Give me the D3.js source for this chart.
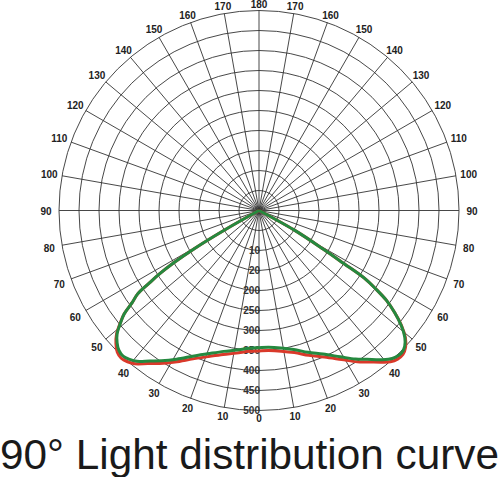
<!DOCTYPE html>
<html>
<head>
<meta charset="utf-8">
<script src="https://cdn.jsdelivr.net/npm/d3@7"></script>
<style>
  html, body { margin: 0; padding: 0; background: #fff; }
  svg { display: block; }
</style>
</head>
<body>
<div id="chart"></div>
<script>
// angle labels round the rim, 0 at the bottom, 180 at the top
const ANGLE_TICKS = d3.range(0, 181, 10);

// ring values (outer ring = 500) and the text printed on them
const RING_VALUES = [50, 100, 150, 200, 250, 300, 350, 400, 450, 500];
const RING_LABELS = ['', '10', '20', '200', '250', '300', '350', '400', '450', '500'];

// curve samples: angle in degrees from the downward axis (negative = left side)
const ANGLES = [
  -62, -60.5, -59.5, -58.5, -57.5, -56.5, -55.5, -54, -52.5, -51, -49, -47,
  -45, -43, -41, -39, -36, -33, -29, -24, -19, -14, -9, -4, 0, 4, 9, 14, 19,
  24, 29, 33, 36, 39, 41, 43, 45, 47, 49, 51, 53, 54.8, 56, 57.3, 58, 59, 61, 63
];

const GREEN_VALUES = [
  0, 100, 188, 250, 295, 330, 368, 392, 425, 445, 470, 485,
  495, 498, 493, 485, 465, 448, 425, 398, 378, 363, 353, 345, 343, 343, 348, 358, 375,
  393, 418, 443, 460, 480, 493, 501, 504, 498, 483, 458, 425, 390, 355, 313, 250, 188, 100, 0
];

const RED_VALUES = [
  0, 100, 188, 250, 295, 330, 368, 392, 425, 446, 472, 489,
  501, 505, 501, 493, 473, 456, 433, 406, 386, 371, 361, 353, 351, 351, 356, 366, 383,
  401, 426, 451, 468, 488, 501, 508, 509, 501, 485, 459, 425, 390, 355, 313, 250, 188, 100, 0
];

const width = 500;
const height = 477;
const cx = 259;
const cy = 210.5;
const radius = 200;

const svg = d3.select('#chart')
  .append('svg')
    .attr('width', width)
    .attr('height', height)
    .attr('viewBox', [0, 0, width, height]);

const rScale = d3.scaleLinear()
  .domain([0, 500])
  .range([0, radius]);

// degrees measured from the downward axis -> d3 radial angle (0 = up, clockwise)
const toRad = (deg) => Math.PI - deg * Math.PI / 180;

const g = svg.append('g')
  .attr('transform', `translate(${cx},${cy})`);

// rings
g.append('g')
  .selectAll('circle')
  .data(RING_VALUES)
  .join('circle')
    .attr('r', d => rScale(d))
    .attr('fill', 'none')
    .attr('stroke', '#333')
    .attr('stroke-width', 0.9);

// spokes every 10 degrees
const spokes = d3.range(0, 360, 10);
g.append('g')
  .selectAll('line')
  .data(spokes)
  .join('line')
    .attr('x1', 0)
    .attr('y1', 0)
    .attr('x2', d => rScale(500) * Math.sin(d * Math.PI / 180))
    .attr('y2', d => rScale(500) * Math.cos(d * Math.PI / 180))
    .attr('stroke', '#333')
    .attr('stroke-width', 0.9);

// angle labels, both sides
const angleLabels = [];
for (const a of ANGLE_TICKS) {
  angleLabels.push({ deg: a, text: a });
  if (a > 0 && a < 180) angleLabels.push({ deg: -a, text: a });
}

const labelR = d => 207 + 6 * Math.abs(Math.sin(d.deg * Math.PI / 180));

g.append('g')
  .selectAll('text')
  .data(angleLabels)
  .join('text')
    .attr('x', d => labelR(d) * Math.sin(d.deg * Math.PI / 180))
    .attr('y', d => labelR(d) * Math.cos(d.deg * Math.PI / 180) + 1.2)
    .attr('text-anchor', 'middle')
    .attr('dominant-baseline', 'central')
    .attr('font-family', 'Liberation Sans, Arial, sans-serif')
    .attr('font-weight', 'bold')
    .attr('font-size', 10)
    .attr('fill', '#222')
    .text(d => d.text);

// ring labels down the 0 axis
g.append('g')
  .selectAll('text')
  .data(RING_VALUES.map((v, i) => ({ v, label: RING_LABELS[i] })))
  .join('text')
    .attr('x', 1)
    .attr('y', d => rScale(d.v))
    .attr('text-anchor', 'end')
    .attr('dominant-baseline', 'central')
    .attr('font-family', 'Liberation Sans, Arial, sans-serif')
    .attr('font-weight', 'bold')
    .attr('font-size', 10)
    .attr('fill', '#333')
    .text(d => d.label);

// curves
const radialLine = d3.lineRadial()
  .angle(d => toRad(d[0]))
  .radius(d => rScale(d[1]))
  .curve(d3.curveCatmullRom.alpha(0.5));

const redData = ANGLES.map((a, i) => [a, RED_VALUES[i]]);
const greenData = ANGLES.map((a, i) => [a, GREEN_VALUES[i]]);

g.append('path')
  .attr('d', radialLine(redData))
  .attr('fill', 'none')
  .attr('stroke', '#d9392a')
  .attr('stroke-width', 3)
  .attr('stroke-linejoin', 'round');

g.append('path')
  .attr('d', radialLine(greenData))
  .attr('fill', 'none')
  .attr('stroke', '#25893f')
  .attr('stroke-width', 3)
  .attr('stroke-linejoin', 'round');

// title
svg.append('text')
  .attr('x', 0)
  .attr('y', 469)
  .attr('font-family', 'Liberation Sans, Arial, sans-serif')
  .attr('font-size', 42)
  .attr('fill', '#1a1a1a')
  .attr('textLength', 499)
  .attr('lengthAdjust', 'spacingAndGlyphs')
  .text('90° Light distribution curve');
</script>
</body>
</html>
